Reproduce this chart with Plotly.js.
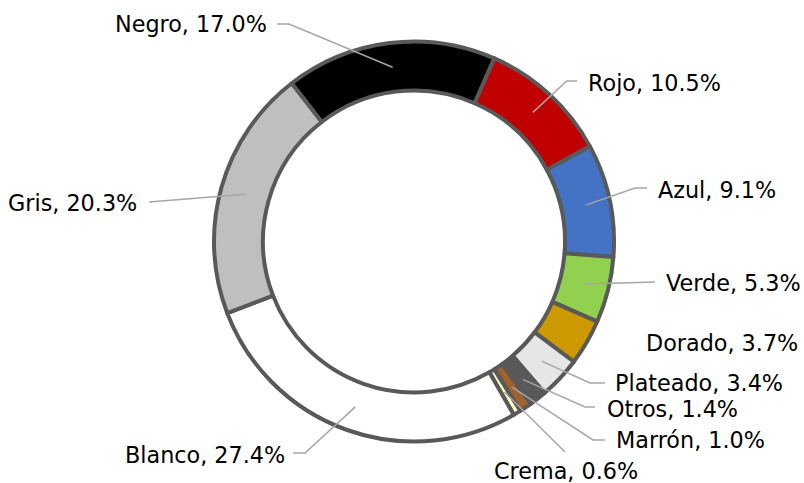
<!DOCTYPE html>
<html><head><meta charset="utf-8">
<script src="https://cdn.plot.ly/plotly-3.0.1.min.js"></script>
<style>html,body{margin:0;padding:0;background:#fff}#chart{width:804px;height:483px}</style>
</head><body><div id="chart"></div>
<script>
// ---- data ----
const categories = ['Negro','Rojo','Azul','Verde','Dorado','Plateado','Otros','Marrón','Crema','Blanco','Gris'];
const shares = [17.0,10.5,9.1,5.3,3.7,3.4,1.4,1.0,0.6,27.4,20.3];
const labelTexts = ['Negro, 17.0%','Rojo, 10.5%','Azul, 9.1%','Verde, 5.3%','Dorado, 3.7%','Plateado, 3.4%','Otros, 1.4%','Marrón, 1.0%','Crema, 0.6%','Blanco, 27.4%','Gris, 20.3%'];

// ---- style ----
const colors = ['#000000','#C00000','#4472C4','#92D050','#CC9900','#E7E6E6','#595959','#A0632D','#FFFFC0','#FFFFFF','#BFBFBF'];
const W = 804, H = 483;
const cx = 414, cy = 241.5, R = 200, hole = 0.755, rotation = -37.7;
// label placement (px): text anchor point, anchor side, elbow of leader, end of leader
const labelLayout = [
  {tx:269, ty:24,  xa:'right',  elbow:[289,24],    end:[277,24]},
  {tx:586, ty:83,  xa:'left',   elbow:[566.7,81],  end:[577,81]},
  {tx:656, ty:190, xa:'left',   elbow:[635,188],   end:[647,188]},
  {tx:664, ty:283, xa:'left',   elbow:[655,282],   end:[655,282]},
  {tx:644, ty:343, xa:'left',   elbow:null,        end:null},
  {tx:613, ty:383, xa:'left',   elbow:[590,383],   end:[605,383]},
  {tx:605, ty:409, xa:'left',   elbow:[585,407],   end:[595,407]},
  {tx:614, ty:440, xa:'left',   elbow:[593,440],   end:[605,440]},
  {tx:566, ty:471, xa:'center', elbow:[565,452],   end:[565,452]},
  {tx:287, ty:455, xa:'right',  elbow:[305,453],   end:[293,453]},
  {tx:139, ty:203, xa:'right',  elbow:[149,202],   end:[149,202]}
];

const px2x = x => x / W;
const px2y = y => 1 - y / H;

// slice mid-angles from the data
const total = shares.reduce((a,b)=>a+b,0);
let acc = 0;
const shapes = [], annotations = [];
const rMid = R * (1 + hole) / 2;
shares.forEach((v,i) => {
  const mid = (rotation + (acc + v/2) / total * 360) * Math.PI / 180;
  acc += v;
  const sx = cx + rMid * Math.sin(mid), sy = cy - rMid * Math.cos(mid);
  const L = labelLayout[i];
  if (L.elbow) {
    shapes.push({type:'path', xref:'paper', yref:'paper', layer:'above',
      path:`M${px2x(sx)},${px2y(sy)} L${px2x(L.elbow[0])},${px2y(L.elbow[1])} L${px2x(L.end[0])},${px2y(L.end[1])}`,
      line:{color:'#A6A6A6', width:1.5}});
  }
  annotations.push({xref:'paper', yref:'paper', x:px2x(L.tx), y:px2y(L.ty), xanchor:L.xa, yanchor:'middle',
    text:labelTexts[i], showarrow:false, font:{family:'DejaVu Sans', size:22.3, color:'#000000'}});
});

const trace = {
  type:'pie', labels:categories, values:shares, sort:false, direction:'clockwise', rotation:rotation,
  hole:hole, textinfo:'none', hoverinfo:'none',
  marker:{colors:colors, line:{color:'#595959', width:4}},
  domain:{x:[px2x(cx-R), px2x(cx+R)], y:[px2y(cy+R), px2y(cy-R)]}
};

Plotly.newPlot('chart', [trace], {
  width:W, height:H, margin:{l:0,r:0,t:0,b:0}, showlegend:false,
  paper_bgcolor:'#ffffff', plot_bgcolor:'#ffffff',
  shapes:shapes, annotations:annotations
}, {staticPlot:true});
</script>
</body></html>
